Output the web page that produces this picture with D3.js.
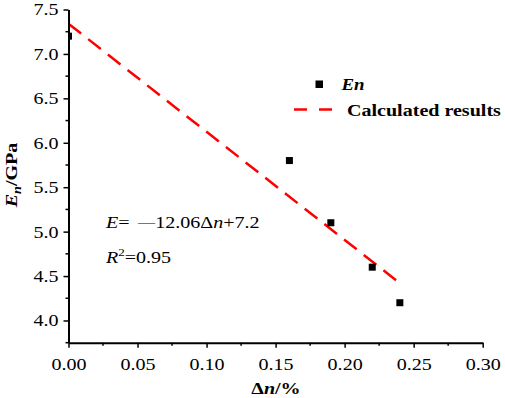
<!DOCTYPE html>
<html>
<head>
<meta charset="utf-8">
<script src="https://cdn.jsdelivr.net/npm/d3@7"></script>
<style>
  body { margin: 0; background: #fff; }
  svg text { font-family: "Liberation Serif", "Tinos", "DejaVu Serif", serif; }
</style>
</head>
<body>
<svg id="chart"></svg>
<script>
/* DATA */
const deltaN = [0, 0.16, 0.19, 0.22, 0.24];
const enValues = [7.2, 5.8, 5.1, 4.6, 4.2];
const fitX = [0, 0.24];
const fitY = [7.34, 4.42];
const xTicks = [0, 0.05, 0.10, 0.15, 0.20, 0.25, 0.30];
const yTicks = [4.0, 4.5, 5.0, 5.5, 6.0, 6.5, 7.0, 7.5];

/* CONSTANTS */
const width = 505,
  height = 398,
  margin = { top: 9.5, right: 22.3, bottom: 55.3, left: 68.5 };
const serif = "'Liberation Serif', 'Tinos', 'DejaVu Serif', serif";
const sx = 1.18; // glyphs in the original are wider than plain Times

const svg = d3.select("#chart")
  .attr("width", width)
  .attr("height", height)
  .attr("font-family", serif);

const x = d3.scaleLinear()
  .domain([0, 0.30])
  .range([margin.left, width - margin.right]);

const y = d3.scaleLinear()
  .domain([3.75, 7.5])
  .range([height - margin.bottom, margin.top]);

// text helper: a group placed at (px,py), stretched along the text direction
function label(px, py, size, opts = {}) {
  const g = svg.append("g")
    .attr("transform", `translate(${px},${py})` + (opts.rotate ? ` rotate(${opts.rotate})` : "") + ` scale(${sx},1)`);
  return g.append("text")
    .attr("font-size", size)
    .attr("text-anchor", opts.anchor || "start")
    .attr("font-weight", opts.bold ? "bold" : null)
    .attr("font-style", opts.italic ? "italic" : null)
    .attr("fill", "#000");
}

// clip for the plot area
svg.append("clipPath")
  .attr("id", "plot-clip")
  .append("rect")
    .attr("x", margin.left)
    .attr("y", margin.top - 5)
    .attr("width", width - margin.left - margin.right)
    .attr("height", height - margin.top - margin.bottom + 5);

const plot = svg.append("g").attr("clip-path", "url(#plot-clip)");

// fitted line
plot.append("line")
  .attr("x1", x(fitX[0]))
  .attr("y1", y(fitY[0]))
  .attr("x2", x(fitX[1]))
  .attr("y2", y(fitY[1]))
  .attr("stroke", "#ff0000")
  .attr("stroke-width", 2.5)
  .attr("stroke-dasharray", "16,9");

// data points
const ms = 7;
plot.selectAll("rect.pt")
  .data(deltaN.map((d, i) => ({ x: d, y: enValues[i] })))
  .join("rect")
    .attr("class", "pt")
    .attr("x", d => x(d.x) - ms / 2)
    .attr("y", d => y(d.y) - ms / 2)
    .attr("width", ms)
    .attr("height", ms)
    .attr("fill", "#000");

// minor ticks
const xMinor = d3.range(0.025, 0.30, 0.05);
const yMinor = d3.range(3.75, 7.5, 0.5);

svg.append("g")
  .selectAll("line")
  .data(xMinor)
  .join("line")
    .attr("x1", d => x(d)).attr("x2", d => x(d))
    .attr("y1", y(3.75)).attr("y2", y(3.75) + 3)
    .attr("stroke", "#000").attr("stroke-width", 1.5);

svg.append("g")
  .selectAll("line")
  .data(yMinor)
  .join("line")
    .attr("y1", d => y(d)).attr("y2", d => y(d))
    .attr("x1", x(0)).attr("x2", x(0) - 3)
    .attr("stroke", "#000").attr("stroke-width", 1.5);

// axes
const xAxis = svg.append("g")
  .attr("transform", `translate(0,${y(3.75)})`)
  .call(d3.axisBottom(x).tickValues(xTicks).tickFormat(d3.format(".2f")).tickSize(5).tickSizeOuter(0).tickPadding(10));

const yAxis = svg.append("g")
  .attr("transform", `translate(${x(0)},0)`)
  .call(d3.axisLeft(y).tickValues(yTicks).tickFormat(d3.format(".1f")).tickSize(5).tickSizeOuter(0));

[xAxis, yAxis].forEach(a => {
  a.attr("font-family", serif).attr("font-size", 17);
  a.select(".domain").attr("stroke", "#000").attr("stroke-width", 2);
  a.selectAll(".tick line").attr("stroke", "#000").attr("stroke-width", 1.5);
  a.selectAll(".tick text").attr("fill", "#000").attr("transform", `scale(${sx},1)`);
});
yAxis.selectAll(".tick text").attr("x", -8.4);

// axis titles
label(276, 394, 17, { anchor: "middle", bold: true })
  .call(t => {
    t.append("tspan").text("Δ");
    t.append("tspan").attr("font-style", "italic").text("n");
    t.append("tspan").text("/%");
  });

label(17, 175, 17, { anchor: "middle", bold: true, rotate: -90 })
  .call(t => {
    t.append("tspan").attr("font-style", "italic").text("E");
    t.append("tspan").attr("font-style", "italic").attr("font-size", 12).attr("dy", 4).text("n");
    t.append("tspan").attr("dy", -4).text("/GPa");
  });

// legend
svg.append("rect")
  .attr("x", 315.5).attr("y", 80.5)
  .attr("width", 7.5).attr("height", 7.5)
  .attr("fill", "#000");

label(341.5, 89.5, 16, { bold: true, italic: true }).text("En");

svg.append("line")
  .attr("x1", 294).attr("x2", 332)
  .attr("y1", 109.5).attr("y2", 109.5)
  .attr("stroke", "#ff0000")
  .attr("stroke-width", 2.5)
  .attr("stroke-dasharray", "13,12");

label(347, 115.5, 17, { bold: true }).text("Calculated results");

// equation
label(106, 228, 17)
  .call(t => {
    t.append("tspan").attr("font-style", "italic").text("E");
    t.append("tspan").text("= ");
    t.append("tspan").attr("font-size", 14.5).attr("dx", 3).attr("dy", -1.5).text("\u2014");
    t.append("tspan").attr("dy", 1.5).text("12.06Δ");
    t.append("tspan").attr("font-style", "italic").text("n");
    t.append("tspan").text("+7.2");
  });

label(106, 263, 17)
  .call(t => {
    t.append("tspan").attr("font-style", "italic").text("R");
    t.append("tspan").attr("font-size", 11).attr("dy", -7).text("2");
    t.append("tspan").attr("dy", 7).text("=0.95");
  });
</script>
</body>
</html>
